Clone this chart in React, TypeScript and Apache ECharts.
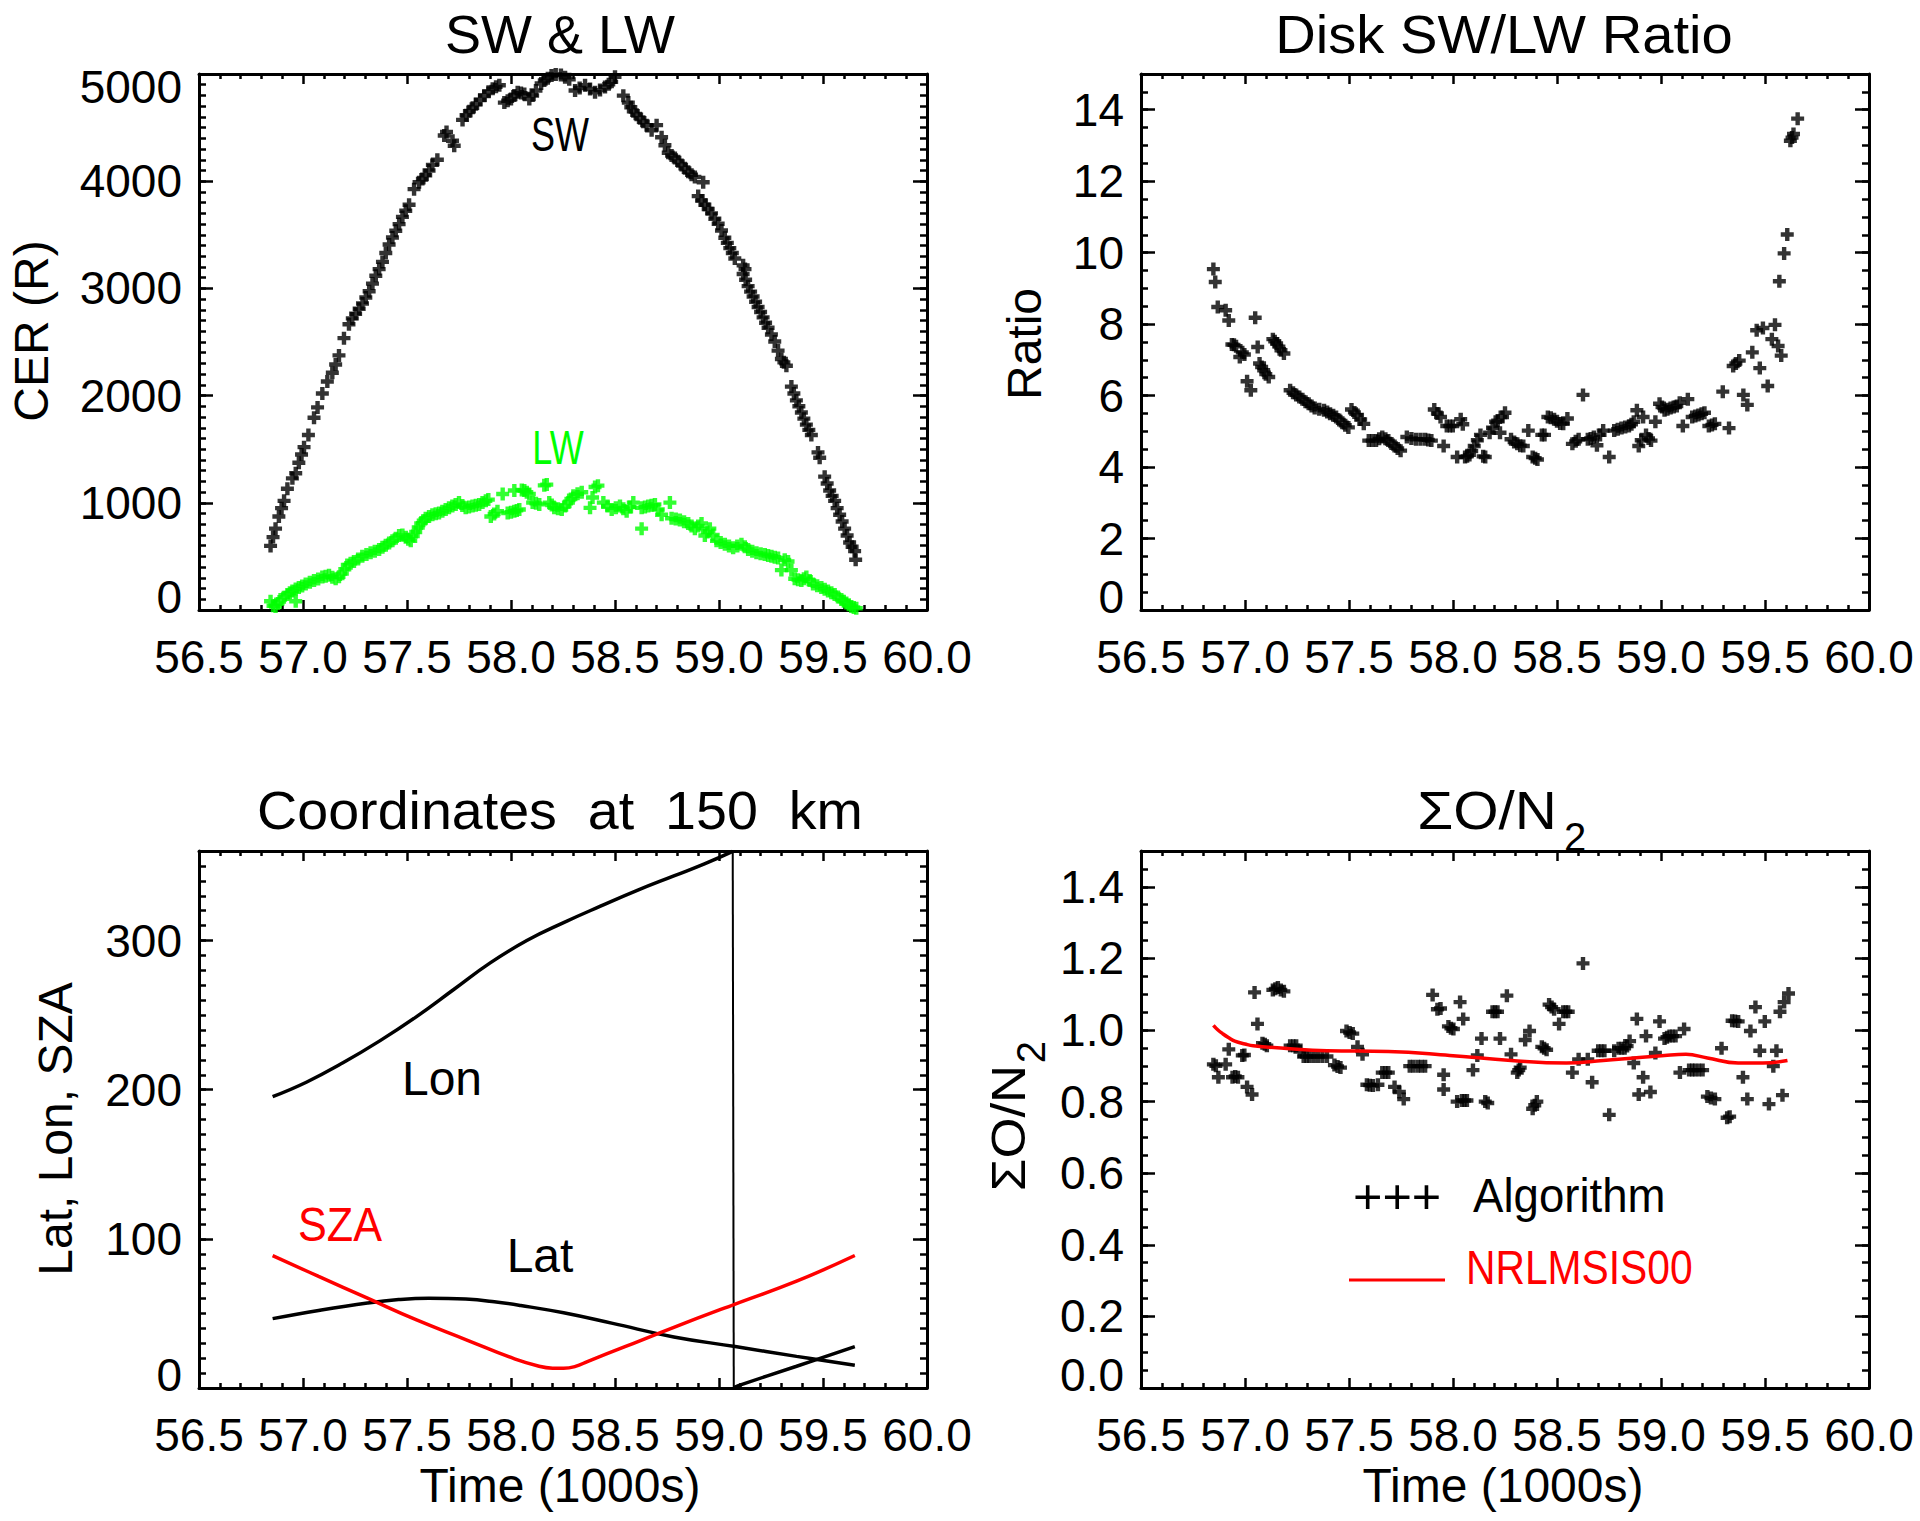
import React, { useEffect, useRef } from "react";
import * as echarts from "echarts";

// ---------- data ----------
const timeRange = [56.5, 60.0];
const timeStep = 0.5;

const cerAxis = { min: 0, max: 5000, major: 1000, minor: 100, decimals: 0, lastLabel: 5000 };
const ratioAxis = { min: 0, max: 15, major: 2, minor: 0.5, decimals: 0, lastLabel: 14 };
const coordAxis = { min: 0, max: 360, major: 100, minor: 10, decimals: 0, lastLabel: 300 };
const on2Axis = { min: 0, max: 1.5, major: 0.2, minor: 0.05, decimals: 1, lastLabel: 1.4 };

const swPoints: number[][] = [
  [56.844, 598], [56.856, 680], [56.868, 759], [56.884, 872], [56.897, 950], [56.909, 1018], [56.925, 1131],
  [56.949, 1228], [56.965, 1276], [56.98, 1373], [56.993, 1450], [57.005, 1519], [57.026, 1632], [57.053, 1793],
  [57.07, 1890], [57.093, 2019], [57.117, 2132], [57.141, 2213], [57.157, 2290], [57.173, 2375], [57.197, 2536],
  [57.221, 2666], [57.237, 2720], [57.253, 2763], [57.27, 2810], [57.286, 2859], [57.302, 2915], [57.318, 2973],
  [57.334, 3045], [57.35, 3118], [57.366, 3180], [57.382, 3247], [57.398, 3330], [57.414, 3409], [57.43, 3475],
  [57.446, 3538], [57.462, 3600], [57.478, 3667], [57.494, 3725], [57.51, 3780], [57.534, 3926], [57.558, 3990],
  [57.574, 4020], [57.59, 4055], [57.606, 4100], [57.622, 4152], [57.646, 4200], [57.679, 4426], [57.69, 4460],
  [57.719, 4378], [57.727, 4330], [57.767, 4572], [57.784, 4615], [57.8, 4653], [57.816, 4685], [57.832, 4717],
  [57.852, 4760], [57.872, 4798], [57.892, 4835], [57.912, 4863], [57.928, 4880], [57.944, 4895], [57.968, 4733],
  [57.984, 4750], [58.0, 4766], [58.016, 4800], [58.032, 4830], [58.048, 4822], [58.064, 4814], [58.088, 4766],
  [58.104, 4800], [58.12, 4846], [58.145, 4911], [58.16, 4940], [58.177, 4960], [58.195, 4985], [58.215, 4995],
  [58.24, 4990], [58.26, 4970], [58.28, 4950], [58.308, 4846], [58.33, 4870], [58.356, 4895], [58.38, 4860],
  [58.404, 4830], [58.428, 4850], [58.452, 4879], [58.47, 4905], [58.484, 4927], [58.5, 4975], [58.54, 4798],
  [58.564, 4733], [58.576, 4690], [58.588, 4653], [58.604, 4620], [58.62, 4588], [58.636, 4555], [58.652, 4523],
  [58.676, 4475], [58.7, 4523], [58.724, 4410], [58.74, 4335], [58.756, 4265], [58.772, 4240], [58.788, 4216],
  [58.804, 4185], [58.82, 4152], [58.836, 4120], [58.852, 4087], [58.868, 4060], [58.884, 4039], [58.924, 3990],
  [58.9, 3861], [58.916, 3820], [58.932, 3780], [58.948, 3740], [58.964, 3700], [58.98, 3650], [58.996, 3603],
  [59.012, 3540], [59.028, 3473], [59.04, 3425], [59.052, 3376], [59.064, 3330], [59.076, 3279], [59.116, 3215],
  [59.125, 3180], [59.116, 3134], [59.128, 3080], [59.14, 3021], [59.152, 2970], [59.164, 2924], [59.176, 2875],
  [59.188, 2827], [59.2, 2780], [59.212, 2730], [59.224, 2680], [59.236, 2633], [59.252, 2570], [59.268, 2504],
  [59.284, 2420], [59.3, 2342], [59.312, 2310], [59.324, 2278], [59.348, 2084], [59.36, 2020], [59.372, 1955],
  [59.384, 1900], [59.396, 1842], [59.408, 1785], [59.42, 1729], [59.432, 1680], [59.444, 1632], [59.476, 1470],
  [59.484, 1420], [59.508, 1244], [59.52, 1180], [59.532, 1115], [59.544, 1065], [59.556, 1018], [59.568, 950],
  [59.58, 889], [59.592, 825], [59.604, 759], [59.616, 695], [59.628, 630], [59.64, 590], [59.652, 549], [59.657, 469],
];

const lwPoints: number[][] = [
  [56.844, 81], [56.856, 40], [56.868, 32], [56.88, 60], [56.892, 97], [56.908, 120], [56.925, 145], [56.937, 160],
  [56.949, 178], [56.965, 81], [56.965, 195], [56.98, 210], [56.996, 225], [57.013, 242], [57.033, 258], [57.053, 275],
  [57.073, 290], [57.093, 307], [57.109, 315], [57.125, 323], [57.141, 305], [57.157, 291], [57.173, 310], [57.189, 339],
  [57.201, 380], [57.213, 420], [57.229, 436], [57.245, 452], [57.265, 476], [57.285, 501], [57.305, 517], [57.325, 533],
  [57.345, 549], [57.366, 565], [57.382, 585], [57.398, 604], [57.414, 625], [57.43, 646], [57.446, 670], [57.462, 695],
  [57.478, 700], [57.494, 679], [57.506, 660], [57.518, 646], [57.53, 690], [57.542, 727], [57.554, 770], [57.566, 808],
  [57.578, 832], [57.59, 856], [57.606, 872], [57.622, 889], [57.638, 897], [57.654, 905], [57.67, 921], [57.686, 937],
  [57.702, 953], [57.718, 969], [57.734, 985], [57.75, 1002], [57.766, 975], [57.782, 953], [57.798, 960], [57.815, 969],
  [57.831, 977], [57.847, 985], [57.863, 1002], [57.879, 1018], [57.891, 1030], [57.903, 872], [57.919, 896], [57.935, 921],
  [57.96, 1082], [57.984, 905], [58.0, 913], [58.016, 921], [58.016, 1115], [58.028, 929], [58.04, 937], [58.052, 1120],
  [58.064, 1115], [58.076, 1098], [58.088, 1082], [58.104, 1002], [58.12, 995], [58.136, 985], [58.16, 1163], [58.172, 1170],
  [58.184, 1002], [58.196, 980], [58.208, 953], [58.226, 945], [58.244, 937], [58.26, 970], [58.276, 1002], [58.288, 1035],
  [58.3, 1066], [58.32, 1085], [58.34, 1099], [58.38, 953], [58.392, 1050], [58.404, 1147], [58.418, 1160], [58.444, 1002],
  [58.464, 970], [58.484, 937], [58.504, 953], [58.524, 969], [58.54, 945], [58.556, 921], [58.572, 960], [58.588, 1002],
  [58.628, 759], [58.628, 953], [58.644, 960], [58.66, 969], [58.676, 977], [58.692, 985], [58.708, 937], [58.724, 889],
  [58.764, 1002], [58.772, 856], [58.792, 848], [58.812, 840], [58.832, 824], [58.852, 808], [58.868, 784], [58.884, 759],
  [58.9, 784], [58.916, 808], [58.932, 695], [58.944, 727], [58.956, 759], [58.972, 700], [58.988, 646], [59.008, 630],
  [59.028, 614], [59.048, 598], [59.068, 581], [59.088, 598], [59.108, 614], [59.124, 590], [59.14, 565], [59.16, 549],
  [59.18, 533], [59.2, 525], [59.22, 517], [59.236, 509], [59.252, 501], [59.268, 493], [59.284, 485], [59.3, 372],
  [59.316, 468], [59.332, 452], [59.348, 372], [59.364, 291], [59.38, 283], [59.396, 275], [59.408, 291], [59.42, 307],
  [59.436, 275], [59.452, 242], [59.472, 226], [59.492, 210], [59.508, 194], [59.524, 178], [59.54, 162], [59.556, 145],
  [59.572, 121], [59.588, 97], [59.6, 81], [59.612, 65], [59.624, 48], [59.636, 32], [59.648, 24], [59.66, 16],
];

const ratioPoints: number[][] = [
  [56.848, 9.54], [56.857, 9.18], [56.869, 8.48], [56.907, 8.39], [56.922, 8.1], [56.937, 7.43], [56.947, 7.42],
  [56.957, 7.38], [56.975, 7.08], [56.987, 7.21], [56.997, 7.15], [57.01, 6.4], [57.028, 6.15], [57.049, 8.18],
  [57.061, 7.36], [57.07, 6.9], [57.08, 6.8], [57.09, 6.71], [57.1, 6.6], [57.114, 6.52], [57.134, 7.58], [57.143, 7.52],
  [57.152, 7.46], [57.163, 7.37], [57.173, 7.27], [57.187, 7.18], [57.217, 6.15], [57.231, 6.08], [57.246, 6.02],
  [57.261, 5.96], [57.276, 5.9], [57.291, 5.83], [57.306, 5.77], [57.32, 5.71], [57.335, 5.65], [57.357, 5.62],
  [57.38, 5.59], [57.395, 5.54], [57.409, 5.49], [57.424, 5.45], [57.438, 5.4], [57.453, 5.32], [57.468, 5.24],
  [57.482, 5.17], [57.497, 5.11], [57.512, 5.61], [57.526, 5.53], [57.541, 5.46], [57.556, 5.33], [57.571, 5.21],
  [57.595, 4.74], [57.612, 4.74], [57.63, 4.74], [57.645, 4.79], [57.66, 4.84], [57.675, 4.79], [57.689, 4.74],
  [57.704, 4.66], [57.719, 4.59], [57.734, 4.52], [57.748, 4.46], [57.778, 4.84], [57.8, 4.8], [57.822, 4.78],
  [57.844, 4.78], [57.866, 4.78], [57.881, 4.76], [57.896, 4.74], [57.91, 5.61], [57.925, 5.5], [57.94, 5.4],
  [57.955, 4.59], [57.97, 5.15], [57.985, 5.15], [57.999, 5.15], [58.02, 4.28], [58.037, 5.34], [58.047, 5.2],
  [58.058, 4.28], [58.068, 4.3], [58.079, 4.34], [58.09, 4.45], [58.102, 4.59], [58.117, 4.75], [58.132, 4.9],
  [58.145, 4.3], [58.155, 4.28], [58.176, 4.96], [58.19, 5.1], [58.205, 5.27], [58.215, 5.3], [58.226, 4.96],
  [58.238, 5.4], [58.25, 5.52], [58.279, 4.78], [58.294, 4.7], [58.309, 4.65], [58.323, 4.6], [58.338, 4.59],
  [58.362, 5.02], [58.383, 4.28], [58.395, 4.25], [58.406, 4.21], [58.427, 4.9], [58.44, 4.9], [58.456, 5.4],
  [58.47, 5.38], [58.486, 5.34], [58.5, 5.28], [58.515, 5.22], [58.53, 5.21], [58.55, 5.36], [58.574, 4.65],
  [58.59, 4.72], [58.604, 4.78], [58.625, 6.02], [58.648, 4.78], [58.662, 4.8], [58.677, 4.84], [58.692, 4.61],
  [58.707, 4.9], [58.722, 5.02], [58.751, 4.28], [58.775, 5.02], [58.792, 5.06], [58.81, 5.09], [58.828, 5.12],
  [58.846, 5.15], [58.858, 5.2], [58.869, 5.27], [58.884, 5.59], [58.893, 4.59], [58.905, 4.75], [58.914, 5.4],
  [58.928, 4.9], [58.94, 4.8], [58.952, 4.74], [58.973, 5.27], [58.993, 5.77], [59.005, 5.68], [59.017, 5.59],
  [59.031, 5.62], [59.046, 5.65], [59.061, 5.68], [59.076, 5.71], [59.09, 5.8], [59.105, 5.15], [59.129, 5.9],
  [59.15, 5.4], [59.165, 5.43], [59.18, 5.46], [59.195, 5.49], [59.209, 5.52], [59.23, 5.15], [59.245, 5.18],
  [59.259, 5.21], [59.297, 6.11], [59.327, 5.09], [59.347, 6.83], [59.36, 6.9], [59.376, 6.98], [59.396, 6.02],
  [59.415, 5.74], [59.439, 7.21], [59.46, 7.83], [59.475, 6.77], [59.49, 7.89], [59.513, 6.27], [59.533, 7.58],
  [59.548, 7.98], [59.563, 7.39], [59.578, 7.12], [59.569, 9.2], [59.592, 9.98], [59.607, 10.51], [59.622, 13.13],
  [59.63, 13.22], [59.637, 13.32], [59.657, 13.75],
];

const on2Points: number[][] = [
  [56.848, 0.904], [56.86, 0.9], [56.872, 0.868], [56.907, 0.904], [56.922, 0.946], [56.94, 0.868], [56.953, 0.87],
  [56.966, 0.868], [56.987, 0.929], [56.997, 0.93], [57.01, 0.841], [57.034, 0.82], [57.046, 1.105], [57.06, 1.017],
  [57.084, 0.963], [57.095, 0.96], [57.105, 0.956], [57.134, 1.112], [57.146, 1.115], [57.158, 1.119], [57.172, 1.112],
  [57.187, 1.108], [57.217, 0.956], [57.232, 0.956], [57.246, 0.956], [57.264, 0.94], [57.282, 0.926], [57.296, 0.926],
  [57.31, 0.926], [57.33, 0.926], [57.35, 0.926], [57.372, 0.926], [57.394, 0.926], [57.43, 0.902], [57.445, 0.898],
  [57.459, 0.895], [57.488, 0.997], [57.503, 0.993], [57.518, 0.99], [57.541, 0.953], [57.565, 0.932], [57.586, 0.847],
  [57.6, 0.846], [57.615, 0.845], [57.639, 0.847], [57.66, 0.881], [57.675, 0.881], [57.689, 0.881], [57.719, 0.841],
  [57.742, 0.827], [57.763, 0.807], [57.792, 0.899], [57.81, 0.899], [57.831, 0.899], [57.848, 0.899], [57.866, 0.899],
  [57.902, 1.098], [57.925, 1.058], [57.94, 1.06], [57.955, 0.875], [57.955, 0.834], [57.978, 1.01], [57.99, 1.005],
  [58.002, 1.003], [58.02, 0.8], [58.034, 1.078], [58.043, 0.803], [58.049, 1.031], [58.055, 0.803], [58.067, 0.803],
  [58.096, 0.888], [58.117, 0.929], [58.137, 0.976], [58.155, 0.8], [58.167, 0.796], [58.19, 1.051], [58.202, 1.051],
  [58.214, 1.051], [58.226, 0.976], [58.259, 1.096], [58.279, 0.932], [58.309, 0.881], [58.316, 0.888], [58.323, 0.895],
  [58.347, 0.972], [58.368, 0.997], [58.383, 0.78], [58.393, 0.79], [58.403, 0.8], [58.427, 0.953], [58.438, 0.949],
  [58.45, 0.945], [58.462, 1.071], [58.474, 1.064], [58.486, 1.058], [58.51, 1.017], [58.53, 1.051], [58.542, 1.051],
  [58.554, 1.051], [58.574, 0.881], [58.604, 0.918], [58.625, 1.186], [58.648, 0.918], [58.669, 0.854], [58.698, 0.942],
  [58.713, 0.942], [58.728, 0.942], [58.751, 0.763], [58.775, 0.942], [58.796, 0.949], [58.81, 0.949], [58.825, 0.949],
  [58.837, 0.955], [58.849, 0.969], [58.869, 0.908], [58.884, 1.031], [58.893, 0.82], [58.914, 0.868], [58.928, 0.983],
  [58.949, 0.827], [58.973, 0.936], [58.993, 1.024], [59.017, 0.976], [59.029, 0.98], [59.041, 0.983], [59.055, 0.983],
  [59.07, 0.983], [59.091, 0.881], [59.111, 1.003], [59.135, 0.888], [59.15, 0.888], [59.164, 0.888], [59.182, 0.888],
  [59.2, 0.888], [59.223, 0.814], [59.24, 0.81], [59.259, 0.807], [59.291, 0.949], [59.318, 0.755], [59.33, 0.758],
  [59.342, 1.026], [59.356, 1.025], [59.371, 1.024], [59.394, 0.868], [59.415, 0.807], [59.43, 0.997], [59.454, 1.064],
  [59.475, 0.942], [59.499, 1.024], [59.519, 0.793], [59.54, 0.899], [59.555, 0.942], [59.572, 1.051], [59.584, 0.818],
  [59.592, 1.078], [59.613, 1.102],
];

const msisLine: number[][] = [
  [56.848, 1.013], [56.87, 1.0], [56.892, 0.99], [56.92, 0.979], [56.951, 0.969], [57.0, 0.961], [57.04, 0.956],
  [57.187, 0.949], [57.394, 0.942], [57.689, 0.94], [57.984, 0.929], [58.279, 0.915], [58.545, 0.908], [58.722, 0.915],
  [58.869, 0.922], [59.017, 0.929], [59.12, 0.932], [59.223, 0.922], [59.371, 0.908], [59.49, 0.908], [59.608, 0.915],
];

// longitude before and after its 360 -> 0 wrap
const lonBeforeWrap: number[][] = [
  [56.854, 195.3], [57.016, 205], [57.192, 218], [57.369, 232.7], [57.546, 249], [57.723, 267], [57.9, 285],
  [58.076, 300], [58.253, 312], [58.43, 323], [58.607, 333.6], [58.783, 343.3], [58.93, 351.4], [59.066, 359.8],
];
const lonAfterWrap: number[][] = [
  [59.071, 0.3], [59.093, 1.6], [59.373, 14.6], [59.653, 27.7],
];

const latLine: number[][] = [
  [56.854, 46.5], [57.075, 52], [57.31, 57], [57.46, 59.3], [57.605, 60.2], [57.782, 59.6], [57.92, 57.8],
  [58.047, 55.3], [58.253, 50.4], [58.489, 43.3], [58.783, 34.2], [59.078, 27.8], [59.373, 21.2], [59.653, 15.3],
];

const szaLine: number[][] = [
  [56.854, 88.8], [57.075, 74.8], [57.31, 60.2], [57.546, 45.6], [57.782, 32.5], [58.017, 19.5], [58.135, 14.6],
  [58.2, 13.3], [58.253, 13.2], [58.31, 14.5], [58.37, 17.9], [58.548, 27.7], [58.783, 40.7], [59.078, 56.3],
  [59.373, 71.6], [59.653, 88.8],
];

// ---------- styling ----------
const FONT = '"Liberation Sans", Arial, sans-serif';
const BLACK = "#000000";
const GREEN = "#00ff00";
const RED = "#ff0000";
const PLUS = "path://M4.3,0H8.7V4.3H13V8.7H8.7V13H4.3V8.7H0V4.3H4.3Z";
const TICK_FS = 46;

const grids = [
  { left: 199, top: 74, width: 728, height: 536 },
  { left: 1141, top: 74, width: 728, height: 536 },
  { left: 199, top: 851, width: 728, height: 537 },
  { left: 1141, top: 851, width: 728, height: 537 },
];

function xAxesFor(g: number) {
  const base: any = {
    type: "value",
    gridIndex: g,
    min: timeRange[0],
    max: timeRange[1],
    interval: timeStep,
    splitLine: { show: false },
    minorSplitLine: { show: false },
    axisLine: { show: true, onZero: false, lineStyle: { color: BLACK, width: 3 } },
    axisTick: { show: true, inside: true, length: 10, lineStyle: { color: BLACK, width: 2.5 } },
    minorTick: { show: true, splitNumber: 5, length: 5, lineStyle: { color: BLACK, width: 2.5 } },
  };
  return [
    {
      ...base,
      position: "bottom",
      axisLabel: {
        show: true,
        margin: 24,
        color: BLACK,
        fontSize: TICK_FS,
        fontFamily: FONT,
        formatter: (v: number) => v.toFixed(1),
      },
    },
    { ...base, position: "top", axisLabel: { show: false } },
  ];
}

function yAxesFor(g: number, spec: any) {
  const common: any = {
    type: "value",
    gridIndex: g,
    min: spec.min,
    max: spec.max,
    splitLine: { show: false },
    axisLine: { show: true, onZero: false, lineStyle: { color: BLACK, width: 3 } },
  };
  const fmt = (v: number) => {
    if (v > spec.lastLabel + 1e-9) return "";
    const s = v.toFixed(spec.decimals);
    if (Math.abs(v - spec.min) < 1e-9) return `{lo|${s}}`;
    if (Math.abs(v - spec.max) < 1e-9) return `{hi|${s}}`;
    return s;
  };
  const txt = { fontSize: TICK_FS, fontFamily: FONT, color: BLACK };
  const rich = {
    lo: { ...txt, padding: [0, 0, 26, 0] },
    hi: { ...txt, padding: [26, 0, 0, 0] },
  };
  const majorTick = { show: true, inside: true, length: 14, lineStyle: { color: BLACK, width: 2.5 } };
  const minorTick = { show: true, inside: true, length: 7, lineStyle: { color: BLACK, width: 2.5 } };
  return [
    {
      ...common,
      position: "left",
      interval: spec.major,
      axisTick: majorTick,
      axisLabel: { show: true, margin: 17, ...txt, formatter: fmt, rich },
    },
    { ...common, position: "right", interval: spec.major, axisTick: majorTick, axisLabel: { show: false } },
    {
      ...common,
      position: "left",
      interval: spec.minor,
      axisLine: { show: false, onZero: false },
      axisTick: minorTick,
      axisLabel: { show: false },
    },
    {
      ...common,
      position: "right",
      interval: spec.minor,
      axisLine: { show: false, onZero: false },
      axisTick: minorTick,
      axisLabel: { show: false },
    },
  ];
}

function label(text: string, x: number, y: number, opts: any = {}) {
  return {
    type: "text",
    x,
    y,
    rotation: opts.rotation || 0,
    scaleX: opts.scaleX || 1,
    z: 100,
    style: {
      text,
      fill: opts.color || BLACK,
      font: `${opts.size || 48}px ${FONT}`,
      align: opts.align || "center",
      verticalAlign: "middle",
    },
  };
}

export default function App() {
  const ref = useRef<HTMLDivElement>(null);

  useEffect(() => {
    if (!ref.current) return;
    const chart = echarts.init(ref.current, undefined, { renderer: "svg" });

    const xAxis = [0, 1, 2, 3].flatMap((g) => xAxesFor(g));
    const yAxis = [
      ...yAxesFor(0, cerAxis),
      ...yAxesFor(1, ratioAxis),
      ...yAxesFor(2, coordAxis),
      ...yAxesFor(3, on2Axis),
    ];

    const scatter = (name: string, data: number[][], g: number, color: string) => ({
      name,
      type: "scatter",
      xAxisIndex: 2 * g,
      yAxisIndex: 4 * g,
      data,
      symbol: PLUS,
      symbolSize: 13,
      itemStyle: { color },
      clip: true,
      silent: true,
    });
    const line = (name: string, data: number[][], g: number, color: string, width = 3.5, smooth: any = 0.45) => ({
      name,
      type: "line",
      xAxisIndex: 2 * g,
      yAxisIndex: 4 * g,
      data,
      showSymbol: false,
      symbol: "none",
      smooth,
      lineStyle: { color, width },
      clip: true,
      silent: true,
    });

    const lonWrap = [lonBeforeWrap[lonBeforeWrap.length - 1], lonAfterWrap[0]];

    const graphic = [
      label("SW & LW", 560, 34, { size: 54 }),
      label("Disk SW/LW Ratio", 1504, 34, { size: 54, scaleX: 1.04 }),
      label("Coordinates  at  150  km", 560, 810, { size: 54, scaleX: 1.03 }),
      label("ΣO/N", 1487, 810, { size: 54, scaleX: 1.08 }),
      label("2", 1575, 837, { size: 40 }),
      label("CER (R)", 31, 331, { rotation: Math.PI / 2 }),
      label("Ratio", 1024, 344, { rotation: Math.PI / 2 }),
      label("Lat, Lon, SZA", 55, 1129, { rotation: Math.PI / 2 }),
      label("ΣO/N", 1008, 1128, { rotation: Math.PI / 2, scaleX: 1.1 }),
      label("2", 1031, 1052, { rotation: Math.PI / 2, size: 40 }),
      label("Time (1000s)", 560, 1485),
      label("Time (1000s)", 1503, 1485),
      label("SW", 560, 135, { scaleX: 0.75 }),
      label("LW", 558, 448, { color: GREEN, scaleX: 0.75 }),
      label("Lon", 442, 1078),
      label("SZA", 340, 1225, { color: RED, scaleX: 0.9 }),
      label("Lat", 540, 1255),
      label("+++", 1353, 1196, { align: "left", scaleX: 1.05 }),
      label("Algorithm", 1473, 1196, { align: "left", scaleX: 0.95 }),
      label("NRLMSIS00", 1466, 1267, { align: "left", color: RED, scaleX: 0.85 }),
      {
        type: "line",
        z: 100,
        shape: { x1: 1349, y1: 1280, x2: 1445, y2: 1280 },
        style: { stroke: RED, lineWidth: 3 },
      },
    ];

    chart.setOption({
      animation: false,
      backgroundColor: "#ffffff",
      grid: grids.map((g) => ({ ...g, containLabel: false })),
      xAxis,
      yAxis,
      series: [
        scatter("SW", swPoints, 0, BLACK),
        scatter("LW", lwPoints, 0, GREEN),
        scatter("Ratio", ratioPoints, 1, BLACK),
        line("Lon", lonBeforeWrap, 2, BLACK),
        line("Lon wrap", lonWrap, 2, BLACK, 2, false),
        line("Lon after wrap", lonAfterWrap, 2, BLACK),
        line("Lat", latLine, 2, BLACK),
        line("SZA", szaLine, 2, RED),
        scatter("Algorithm", on2Points, 3, BLACK),
        line("NRLMSIS00", msisLine, 3, RED, 3.5),
      ],
      graphic,
    });

    return () => chart.dispose();
  }, []);

  return (
    <div
      ref={ref}
      style={{ position: "fixed", left: 0, top: 0, width: 1920, height: 1521, background: "#fff" }}
    />
  );
}
